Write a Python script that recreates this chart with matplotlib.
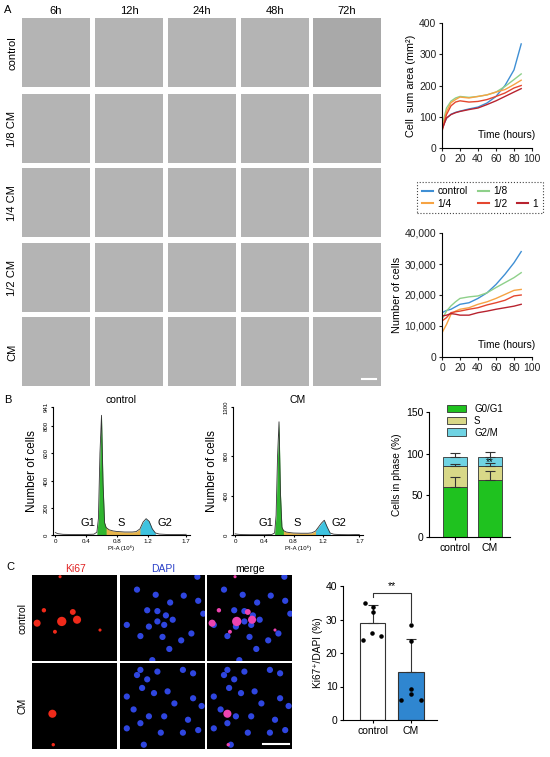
import numpy as np
import matplotlib
matplotlib.use('Agg')
import matplotlib.pyplot as plt
from matplotlib.lines import Line2D

plt.rcParams['font.family'] = ['Liberation Sans', 'DejaVu Sans']
plt.rcParams['axes.linewidth'] = 0.8
plt.rcParams['xtick.major.width'] = 0.8
plt.rcParams['ytick.major.width'] = 0.8
plt.rcParams['xtick.major.size'] = 2.5
plt.rcParams['ytick.major.size'] = 2.5

# ---- data ----
# panel A: microscopy grid labels
time_labels = ['6h', '12h', '24h', '48h', '72h']
cond_labels = ['control', '1/8 CM', '1/4 CM', '1/2 CM', 'CM']

# panel A: growth curves
series_names = ['control', '1/8', '1/4', '1/2', '1']
time_h = [0, 5, 10, 15, 20, 30, 40, 50, 60, 70, 80, 88]
area_control = [64, 95, 108, 114, 118, 125, 131, 144, 165, 200, 250, 333]
area_18 = [70, 128, 150, 160, 165, 162, 165, 170, 179, 197, 219, 237]
area_14 = [59, 117, 145, 155, 163, 160, 165, 170, 179, 187, 203, 217]
area_12 = [53, 107, 135, 147, 151, 147, 149, 155, 165, 176, 192, 200]
area_1 = [59, 96, 107, 113, 117, 123, 128, 139, 151, 165, 179, 190]
count_control = [14300, 15000, 15400, 16200, 17000, 17500, 18900, 20700, 23400, 26700, 30400, 34000]
count_18 = [12200, 14800, 16500, 17800, 18900, 19400, 19700, 20700, 22400, 24000, 25600, 27200]
count_14 = [7800, 10500, 13800, 14800, 15400, 15900, 17000, 17800, 18900, 20200, 21500, 21800]
count_12 = [11600, 12700, 14300, 14600, 14800, 15400, 15900, 16800, 17500, 18300, 19700, 20000]
count_1 = [13200, 13500, 14000, 13800, 13500, 13500, 14300, 14800, 15400, 15900, 16400, 17000]

# panel B: DNA content histograms (PI-A, x10^6)
pi_a = [0.0, 0.03, 0.1, 0.2, 0.3, 0.4, 0.5, 0.54, 0.56, 0.58, 0.6, 0.62, 0.64, 0.66,
        0.7, 0.75, 0.8, 0.9, 1.0, 1.05, 1.1, 1.14, 1.18, 1.22, 1.26, 1.3, 1.35, 1.45, 1.55, 1.7]
hist_control = [18, 10, 5, 4, 3, 4, 6, 20, 120, 600, 880, 380, 90, 55,
                38, 30, 26, 22, 22, 25, 45, 95, 120, 100, 45, 15, 7, 4, 3, 5]
hist_cm = [12, 8, 4, 3, 3, 3, 5, 20, 200, 800, 1150, 420, 80, 45,
           30, 24, 20, 18, 18, 22, 40, 80, 120, 150, 80, 20, 8, 4, 3, 5]

# panel B: phase distribution (%)
phase_groups = ['control', 'CM']
g0g1 = [59.5, 68.0]
s_phase = [26.0, 17.5]
g2m = [11.0, 11.0]
g0g1_err = [12.0, 11.5]
s_err = [2.5, 3.5]
g2m_err = [4.5, 5.5]

# panel C: Ki67+/DAPI (%)
ki_groups = ['control', 'CM']
ki_mean = [29.0, 14.2]
ki_sd = [5.2, 9.9]
ki_pts_control = [34.8, 33.8, 32.3, 23.9, 26.1, 25.1]
ki_pts_cm = [28.4, 23.7, 9.2, 7.8, 6.0, 6.0]

# panel C: nuclei seen in the fluorescence images (fraction of image width/height)
dapi_ctrl_u = [0.20, 0.91, 0.42, 0.59, 0.75, 0.92, 0.44, 0.54, 0.62, 0.44, 0.52, 0.34, 0.08,
               0.24, 0.50, 0.72, 0.84, 0.58, 0.32, 0.98, 0.38]
dapi_ctrl_v = [0.17, 0.02, 0.23, 0.32, 0.24, 0.30, 0.42, 0.47, 0.52, 0.54, 0.58, 0.60, 0.58,
               0.71, 0.72, 0.76, 0.68, 0.86, 0.41, 0.45, 0.99]
dapi_cm_u = [0.24, 0.20, 0.32, 0.26, 0.44, 0.74, 0.86, 0.40, 0.56, 0.08, 0.64, 0.86, 0.96,
             0.16, 0.34, 0.52, 0.24, 0.80, 0.48, 0.74, 0.92, 0.28, 0.08]
dapi_cm_v = [0.08, 0.14, 0.19, 0.29, 0.10, 0.08, 0.12, 0.35, 0.33, 0.39, 0.47, 0.41, 0.50,
             0.54, 0.62, 0.62, 0.70, 0.66, 0.81, 0.81, 0.78, 0.95, 0.76]
ki_ctrl_u = [0.06, 0.35, 0.53, 0.48, 0.14, 0.27, 0.80, 0.33]
ki_ctrl_v = [0.56, 0.54, 0.52, 0.43, 0.41, 0.66, 0.64, 0.02]
ki_ctrl_s = [26, 45, 34, 18, 10, 8, 5, 5]
ki_cm_u = [0.24, 0.25]
ki_cm_v = [0.59, 0.95]
ki_cm_s = [34, 6]

# ---- styles ----
line_colors = ['#3f8fd4', '#8ed08a', '#f6a343', '#e4472f', '#b8232f']
c_g1, c_s, c_g2 = '#1fc21f', '#d8d888', '#6fd3e3'
W, H = 550, 757

fig = plt.figure(figsize=(W / 100, H / 100), dpi=100)


def box(x0, y0, x1, y1):
    return fig.add_axes([x0 / W, 1 - y1 / H, (x1 - x0) / W, (y1 - y0) / H])


def ftext(x, y, s, **kw):
    fig.text(x / W, 1 - y / H, s, **kw)


# ================= panel A: brightfield grid =================
ftext(8, 10, 'A', fontsize=8, ha='center', va='center')
col_x = [22, 95, 168, 241, 313]
row_y = [18, 94, 168, 243, 317]
for j, t in enumerate(time_labels):
    ftext(col_x[j] + 34, 11, t, fontsize=8, ha='center', va='center')
for i, c in enumerate(cond_labels):
    ftext(12, row_y[i] + 35, c, fontsize=8, ha='center', va='center', rotation=90)
    for j in range(len(time_labels)):
        ax = box(col_x[j], row_y[i], col_x[j] + 68, row_y[i] + 69)
        ax.set_facecolor('#a9a9a9' if (i == 0 and j == 4) else '#b4b4b4')
        ax.set_xticks([])
        ax.set_yticks([])
        for sp in ax.spines.values():
            sp.set_visible(False)
        if i == len(cond_labels) - 1 and j == len(time_labels) - 1:
            ax.plot([0.72, 0.93], [0.1, 0.1], color='white', lw=1.5, transform=ax.transAxes)


def growth_axes(ax, ys, ymax, yticks, yticklabels, ylabel):
    for y, col in zip(ys, line_colors):
        ax.plot(time_h, y, color=col, lw=1.0)
    ax.set_xlim(0, 100)
    ax.set_ylim(0, ymax)
    ax.set_xticks([0, 20, 40, 60, 80, 100])
    ax.set_yticks(yticks)
    ax.set_yticklabels(yticklabels)
    ax.tick_params(labelsize=7.5, pad=1.5, colors='#222')
    ax.spines['top'].set_visible(False)
    ax.spines['right'].set_visible(False)
    ax.set_ylabel(ylabel, fontsize=7.8, labelpad=2)
    ax.text(1.03, 0.06, 'Time (hours)', transform=ax.transAxes, fontsize=7.3,
            ha='right', va='bottom')


ax1 = box(442, 23, 532, 148)
growth_axes(ax1, [area_control, area_18, area_14, area_12, area_1], 400,
            [0, 100, 200, 300, 400], ['0', '100', '200', '300', '400'],
            'Cell  sum area (mm²)')

ax2 = box(442, 233, 532, 357)
growth_axes(ax2, [count_control, count_18, count_14, count_12, count_1], 40000,
            [0, 10000, 20000, 30000, 40000], ['0', '10,000', '20,000', '30,000', '40,000'],
            'Number of cells')

handles = [Line2D([], [], color=line_colors[0]), Line2D([], [], color=line_colors[2]),
           Line2D([], [], color=line_colors[1]), Line2D([], [], color=line_colors[3]),
           Line2D([], [], color='none'), Line2D([], [], color=line_colors[4])]
labels = [series_names[0], series_names[2], series_names[1], series_names[3], ' ', series_names[4]]
leg = fig.legend(handles, labels, ncol=3, loc='center', bbox_to_anchor=(480 / W, 1 - 197.5 / H),
                 fontsize=7.3, handlelength=1.1, handletextpad=0.4, columnspacing=1.0,
                 labelspacing=0.25, borderpad=0.45, fancybox=False, framealpha=1)
leg.get_frame().set_linestyle(':')
leg.get_frame().set_edgecolor('#444')
leg.get_frame().set_linewidth(0.8)

# ================= panel B =================
ftext(8, 400, 'B', fontsize=8, ha='center', va='center')
pi = np.array(pi_a)


def flow_axes(ax, counts, ymax, yticks, title):
    n = np.array(counts)
    ax.fill_between(pi, 0, n, where=(pi >= 0.64) & (pi <= 1.14), color='#e7b54c', lw=0)
    ax.fill_between(pi, 0, n, where=(pi >= 0.54) & (pi <= 0.66), color='#2fb52f', lw=0)
    ax.fill_between(pi, 0, n, where=(pi >= 1.10) & (pi <= 1.30), color='#3ec3e0', lw=0)
    ax.plot(pi, n, color='#333', lw=0.6)
    ax.set_xlim(-0.03, 1.75)
    ax.set_ylim(0, ymax)
    ax.set_xticks([0, 0.4, 0.8, 1.2, 1.7])
    ax.set_xticklabels(['0', '0.4', '0.8', '1.2', '1.7'])
    ax.set_yticks(yticks)
    ax.tick_params(axis='x', labelsize=4.5, pad=1.5, length=1.5)
    ax.tick_params(axis='y', labelsize=4.3, pad=1.5, length=1.5, labelrotation=90)
    for lab in ax.get_yticklabels():
        lab.set_va('center')
    ax.spines['top'].set_visible(False)
    ax.spines['right'].set_visible(False)
    ax.set_title(title, fontsize=7.5, pad=3)
    ax.set_ylabel('Number of cells', fontsize=8.5, labelpad=4)
    ax.set_xlabel('PI-A (10⁶)', fontsize=4.3, labelpad=1)
    ax.text(0.42, ymax * 0.094, 'G1', fontsize=8, ha='center', va='center')
    ax.text(0.85, ymax * 0.094, 'S', fontsize=8, ha='center', va='center')
    ax.text(1.42, ymax * 0.094, 'G2', fontsize=8, ha='center', va='center')


axf1 = box(53, 407, 190, 535)
flow_axes(axf1, hist_control, 941, [0, 200, 400, 600, 800, 941], 'control')
axf2 = box(233, 407, 363, 535)
flow_axes(axf2, hist_cm, 1300, [0, 400, 800, 1300], 'CM')

# stacked phase bars
axp = box(429, 412, 510, 537)
xp = np.arange(len(phase_groups))
bw = 0.66
s_bottom = np.array(g0g1)
g2_bottom = s_bottom + np.array(s_phase)
tops = g2_bottom + np.array(g2m)
axp.bar(xp, g0g1, bw, color=c_g1, edgecolor='#333', lw=0.6, label='G0/G1', zorder=2)
axp.bar(xp, s_phase, bw, bottom=s_bottom, color=c_s, edgecolor='#333', lw=0.6, label='S', zorder=2)
axp.bar(xp, g2m, bw, bottom=g2_bottom, color=c_g2, edgecolor='#333', lw=0.6, label='G2/M', zorder=2)
zeros = np.zeros(len(xp))
for base, err in [(s_bottom, g0g1_err), (g2_bottom, s_err), (tops, g2m_err)]:
    axp.errorbar(xp, base, yerr=[zeros, err], fmt='none', ecolor='#333',
                 elinewidth=0.8, capsize=3.5, capthick=0.8, zorder=3)
axp.text(1, g2_bottom[1] + g2m[1] / 2 - 1.5, '**', fontsize=7, ha='center', va='center', zorder=4)
axp.set_xlim(-0.74, 1.57)
axp.set_ylim(0, 150)
axp.set_yticks([0, 50, 100, 150])
axp.set_xticks(xp)
axp.set_xticklabels(phase_groups)
axp.tick_params(labelsize=7.5, pad=1.5)
axp.spines['top'].set_visible(False)
axp.spines['right'].set_visible(False)
axp.set_ylabel('Cells in phase (%)', fontsize=7.3, labelpad=3)
fig.legend(*axp.get_legend_handles_labels(), loc='upper left',
           bbox_to_anchor=(440 / W, 1 - 397 / H), fontsize=7, frameon=False,
           handlelength=2.0, handleheight=0.85, labelspacing=0.2, handletextpad=0.8,
           borderpad=0.2)

# ================= panel C =================
ftext(10, 567, 'C', fontsize=8, ha='center', va='center')
fl_x = [32, 120, 207]
fl_y = [575, 663]
fl_titles = [('Ki67', '#e02020'), ('DAPI', '#2a40c8'), ('merge', 'black')]
for j, (t, col) in enumerate(fl_titles):
    ftext(fl_x[j] + 43, 569, t, fontsize=7.5, ha='center', va='center', color=col)
for i, lab in enumerate(['control', 'CM']):
    ftext(22, fl_y[i] + 43, lab, fontsize=7.5, ha='center', va='center', rotation=90)

nuclei = [
    (dapi_ctrl_u, dapi_ctrl_v, ki_ctrl_u, ki_ctrl_v, ki_ctrl_s),
    (dapi_cm_u, dapi_cm_v, ki_cm_u, ki_cm_v, ki_cm_s),
]
for i, (du, dv, ku, kv, ks) in enumerate(nuclei):
    for j in range(3):
        ax = box(fl_x[j], fl_y[i], fl_x[j] + 85, fl_y[i] + 86)
        ax.set_facecolor('black')
        ax.set_xlim(0, 1)
        ax.set_ylim(1, 0)
        ax.set_xticks([])
        ax.set_yticks([])
        for sp in ax.spines.values():
            sp.set_visible(False)
        if j in (1, 2):
            ax.scatter(du, dv, s=20, color='#2f46e0', edgecolors='none')
        if j == 0:
            ax.scatter(ku, kv, s=ks, color='#f02a1a', edgecolors='none')
        if j == 2:
            ax.scatter(ku, kv, s=ks, color='#ee44b0', edgecolors='none')
        if i == 1 and j == 2:
            ax.plot([0.66, 0.96], [0.94, 0.94], color='white', lw=1.5)

axk = box(343, 586, 437, 720)
xk = np.arange(len(ki_groups))
axk.bar(xk, ki_mean, 0.66, color=['white', '#2f86d0'], edgecolor='#333', lw=0.8, zorder=2)
axk.errorbar(xk, ki_mean, yerr=[np.zeros(2), ki_sd], fmt='none', ecolor='#333',
             elinewidth=0.8, capsize=3.5, capthick=0.8, zorder=3)
jit_control = [-0.2, 0.0, 0.0, -0.24, -0.01, 0.23]
jit_cm = [0.0, 0.0, 0.0, 0.0, -0.26, 0.25]
axk.scatter(np.array(jit_control) + xk[0], ki_pts_control, s=5, color='black', zorder=4)
axk.scatter(np.array(jit_cm) + xk[1], ki_pts_cm, s=5, color='black', zorder=4)
axk.plot([0, 0, 1, 1], [36.8, 37.9, 37.9, 29.3], color='#333', lw=0.8)
axk.text(0.5, 38.6, '**', fontsize=7.5, ha='center', va='bottom')
axk.set_xlim(-0.77, 1.68)
axk.set_ylim(0, 40)
axk.set_yticks([0, 10, 20, 30, 40])
axk.set_xticks(xk)
axk.set_xticklabels(ki_groups)
axk.tick_params(labelsize=7.5, pad=1.5)
axk.spines['top'].set_visible(False)
axk.spines['right'].set_visible(False)
axk.set_ylabel('Ki67⁺/DAPI (%)', fontsize=7.3, labelpad=2)

fig.savefig('out.png', dpi=100, facecolor='white')
